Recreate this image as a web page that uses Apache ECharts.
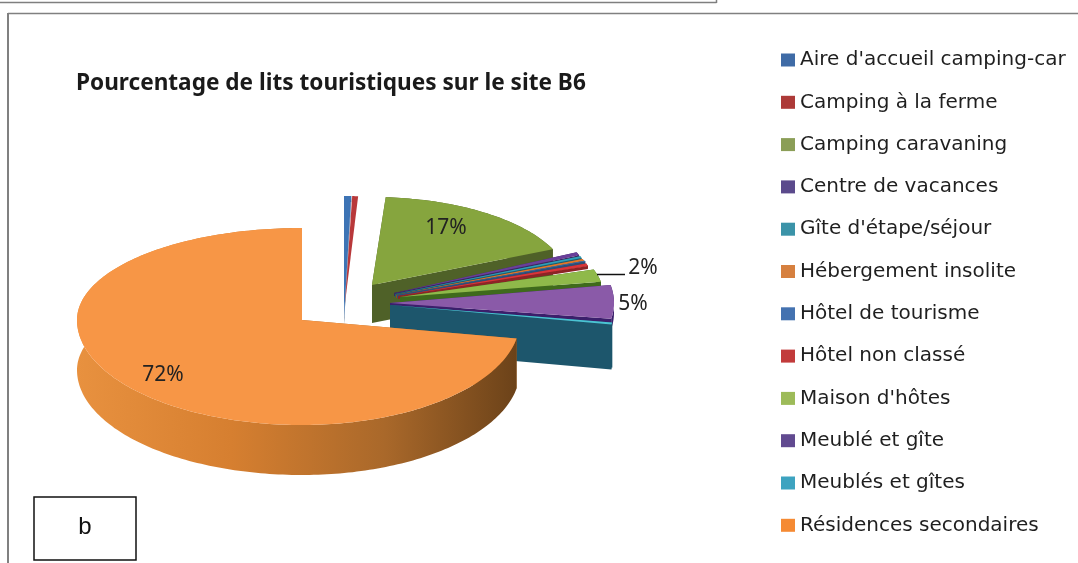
<!DOCTYPE html>
<html>
<head>
<meta charset="utf-8">
<style>html,body{margin:0;padding:0;background:#fff}#c{width:1078px;height:563px}</style>
<script src="https://cdn.jsdelivr.net/npm/echarts@6/dist/echarts.min.js"></script>
</head>
<body>
<div id="c"></div>
<script>
// ---- data ----
const categories = ["Aire d'accueil camping-car","Camping à la ferme","Camping caravaning","Centre de vacances","Gîte d'étape/séjour","Hébergement insolite","Hôtel de tourisme","Hôtel non classé","Maison d'hôtes","Meublé et gîte","Meublés et gîtes","Résidences secondaires"];
const shares = [0.6,0.5,17.2,0.5,0.3,0.3,0.1,0.4,2.3,5.3,0.3,72.1];
const dataLabels = [null,null,"17%",null,null,null,null,null,"2%","5%",null,"72%"];
const chartTitle = "Pourcentage de lits touristiques sur le site B6";
const panelLetter = "b";

// ---- styles ----
const legendColors = ["#3f6ba6","#ad3a38","#8b9e57","#5b4a8c","#3b93a8","#d6803f","#4472b0","#c23b3b","#9dbb59","#614a90","#3da3c0","#f58a33"];
const topColors = ["#3d74b5","#b8383a","#86a53e","#6a3f9a","#2f9fb8","#e0782c","#4a7fc0","#d8353a","#8fb94a","#8a5aa8","#4bc3d3","#f79646"];
const sideColors = ["#24476f","#6e2426","#4f6128","#3c2860","#1e5f70","#8e4f1a","#2c4f78","#8c2426","#3f6a1c","#3b1f6b","#1d566c","#b06a28"];

// ---- per-slice drawing geometry: explosion point, radii (E,W,N,S) and thickness ----
const sliceApex = [[344,318],[345,303],[372,285],[394,293],[395,294],[396,295],[397,295],[398,296],[400,297],[390,303],[390,305],[302,320]];
const sliceRadii = [[190,190,122,122],[190,190,107,107],[198,198,88,98],[200,200,100,100],[200,200,100,100],[200,200,100,100],[200,200,100,100],[200,200,96,96],[204,204,88,88],[224,224,104,100],[225,225,100,110],[218,225,92,105]];
const sliceDepth = [6,0,38,3,3,3,3,3,10,10,45,50];
const labelAt = [null,null,[446,228],null,null,null,null,null,[643,268],[633,304],null,[163,375]];

// cumulative start shares, clockwise from 12 o'clock
const startShare = [];
shares.reduce(function (sum, v, i) { startShare[i] = sum; return sum + v; }, 0);
const totalShare = shares.reduce(function (a, b) { return a + b; }, 0);

function rim(i, a) {
  const c = sliceApex[i], r = sliceRadii[i], s = Math.sin(a), k = Math.cos(a);
  return [c[0] + (s > 0 ? r[0] : r[1]) * s, c[1] - (k > 0 ? r[2] : r[3]) * k];
}
function poly(points, fill) {
  return { type: 'polygon', shape: { points: points }, style: { fill: fill }, silent: true };
}
function renderSlice(i) {
  return function (params, api) {
    const value = api.value(0);
    const a0 = startShare[i] / totalShare * 2 * Math.PI;
    const a1 = a0 + value / totalShare * 2 * Math.PI;
    const d = sliceDepth[i], c = sliceApex[i], steps = Math.max(4, Math.ceil((a1 - a0) / 0.02));
    const arc = [];
    for (let k = 0; k <= steps; k++) arc.push(rim(i, a0 + (a1 - a0) * k / steps));
    const down = function (p) { return [p[0], p[1] + d]; };
    const first = arc[0], last = arc[arc.length - 1];
    const children = [];
    if (d > 0) {
      children.push(poly([c, first, down(first), down(c)], sideColors[i]));
      children.push(poly([c, last, down(last), down(c)], sideColors[i]));
      let wallFill = sideColors[i];
      if (i === 11) {
        wallFill = { type: 'linear', global: true, x: 77, y: 0, x2: 518, y2: 0,
          colorStops: [{ offset: 0, color: '#e8913f' }, { offset: 0.35, color: '#d67f30' }, { offset: 0.7, color: '#a9682a' }, { offset: 1, color: '#6b4219' }] };
      }
      children.push(poly(arc.concat(arc.map(down).reverse()), wallFill));
    }
    children.push(poly([c].concat(arc), topColors[i]));
    if (dataLabels[i]) {
      if (dataLabels[i] === "2%") {
        children.push({ type: 'line', silent: true, shape: { x1: 597, y1: 274.5, x2: 625, y2: 274.5 }, style: { stroke: '#111', lineWidth: 1.5 } });
      }
      children.push({ type: 'text', silent: true, x: labelAt[i][0], y: labelAt[i][1],
        style: { text: dataLabels[i], fill: '#222', font: '21px "Noto Sans"', align: 'center', verticalAlign: 'middle' } });
    }
    return { type: 'group', children: children };
  };
}

const chart = echarts.init(document.getElementById('c'), null, { renderer: 'canvas' });
chart.setOption({
  animation: false,
  backgroundColor: '#fff',
  title: { text: chartTitle, left: 76, top: 72, padding: 0,
    textStyle: { fontFamily: 'Noto Sans', fontWeight: 'bold', fontSize: 22.6, color: '#1a1a1a' } },
  legend: { orient: 'vertical', left: 781, top: 48, padding: 0, icon: 'rect', itemWidth: 14, itemHeight: 13,
    itemGap: 18.3, selectedMode: false, data: categories,
    textStyle: { fontFamily: 'DejaVu Sans', fontSize: 20, color: '#1f1f1f', lineHeight: 24 } },
  graphic: [
    { type: 'line', silent: true, shape: { x1: 0, y1: 2.5, x2: 716.5, y2: 2.5 }, style: { stroke: '#7f7f7f', lineWidth: 1.5 } },
    { type: 'line', silent: true, shape: { x1: 716.5, y1: 0, x2: 716.5, y2: 3 }, style: { stroke: '#7f7f7f', lineWidth: 1.5 } },
    { type: 'line', silent: true, shape: { x1: 8, y1: 13.5, x2: 1078, y2: 13.5 }, style: { stroke: '#808080', lineWidth: 1.5 } },
    { type: 'line', silent: true, shape: { x1: 8, y1: 13, x2: 8, y2: 563 }, style: { stroke: '#808080', lineWidth: 2 } },
    { type: 'rect', silent: true, z: 10, shape: { x: 34, y: 497, width: 102, height: 63 }, style: { fill: '#fff', stroke: '#111', lineWidth: 1.5 } },
    { type: 'text', silent: true, z: 11, x: 85, y: 527, style: { text: panelLetter, fill: '#111', font: '24px "Liberation Sans"', align: 'center', verticalAlign: 'middle' } }
  ],
  series: categories.map(function (name, i) {
    return { type: 'custom', name: name, coordinateSystem: 'none', silent: true,
      itemStyle: { color: legendColors[i] }, data: [[shares[i]]], renderItem: renderSlice(i) };
  })
});
</script>
</body>
</html>
